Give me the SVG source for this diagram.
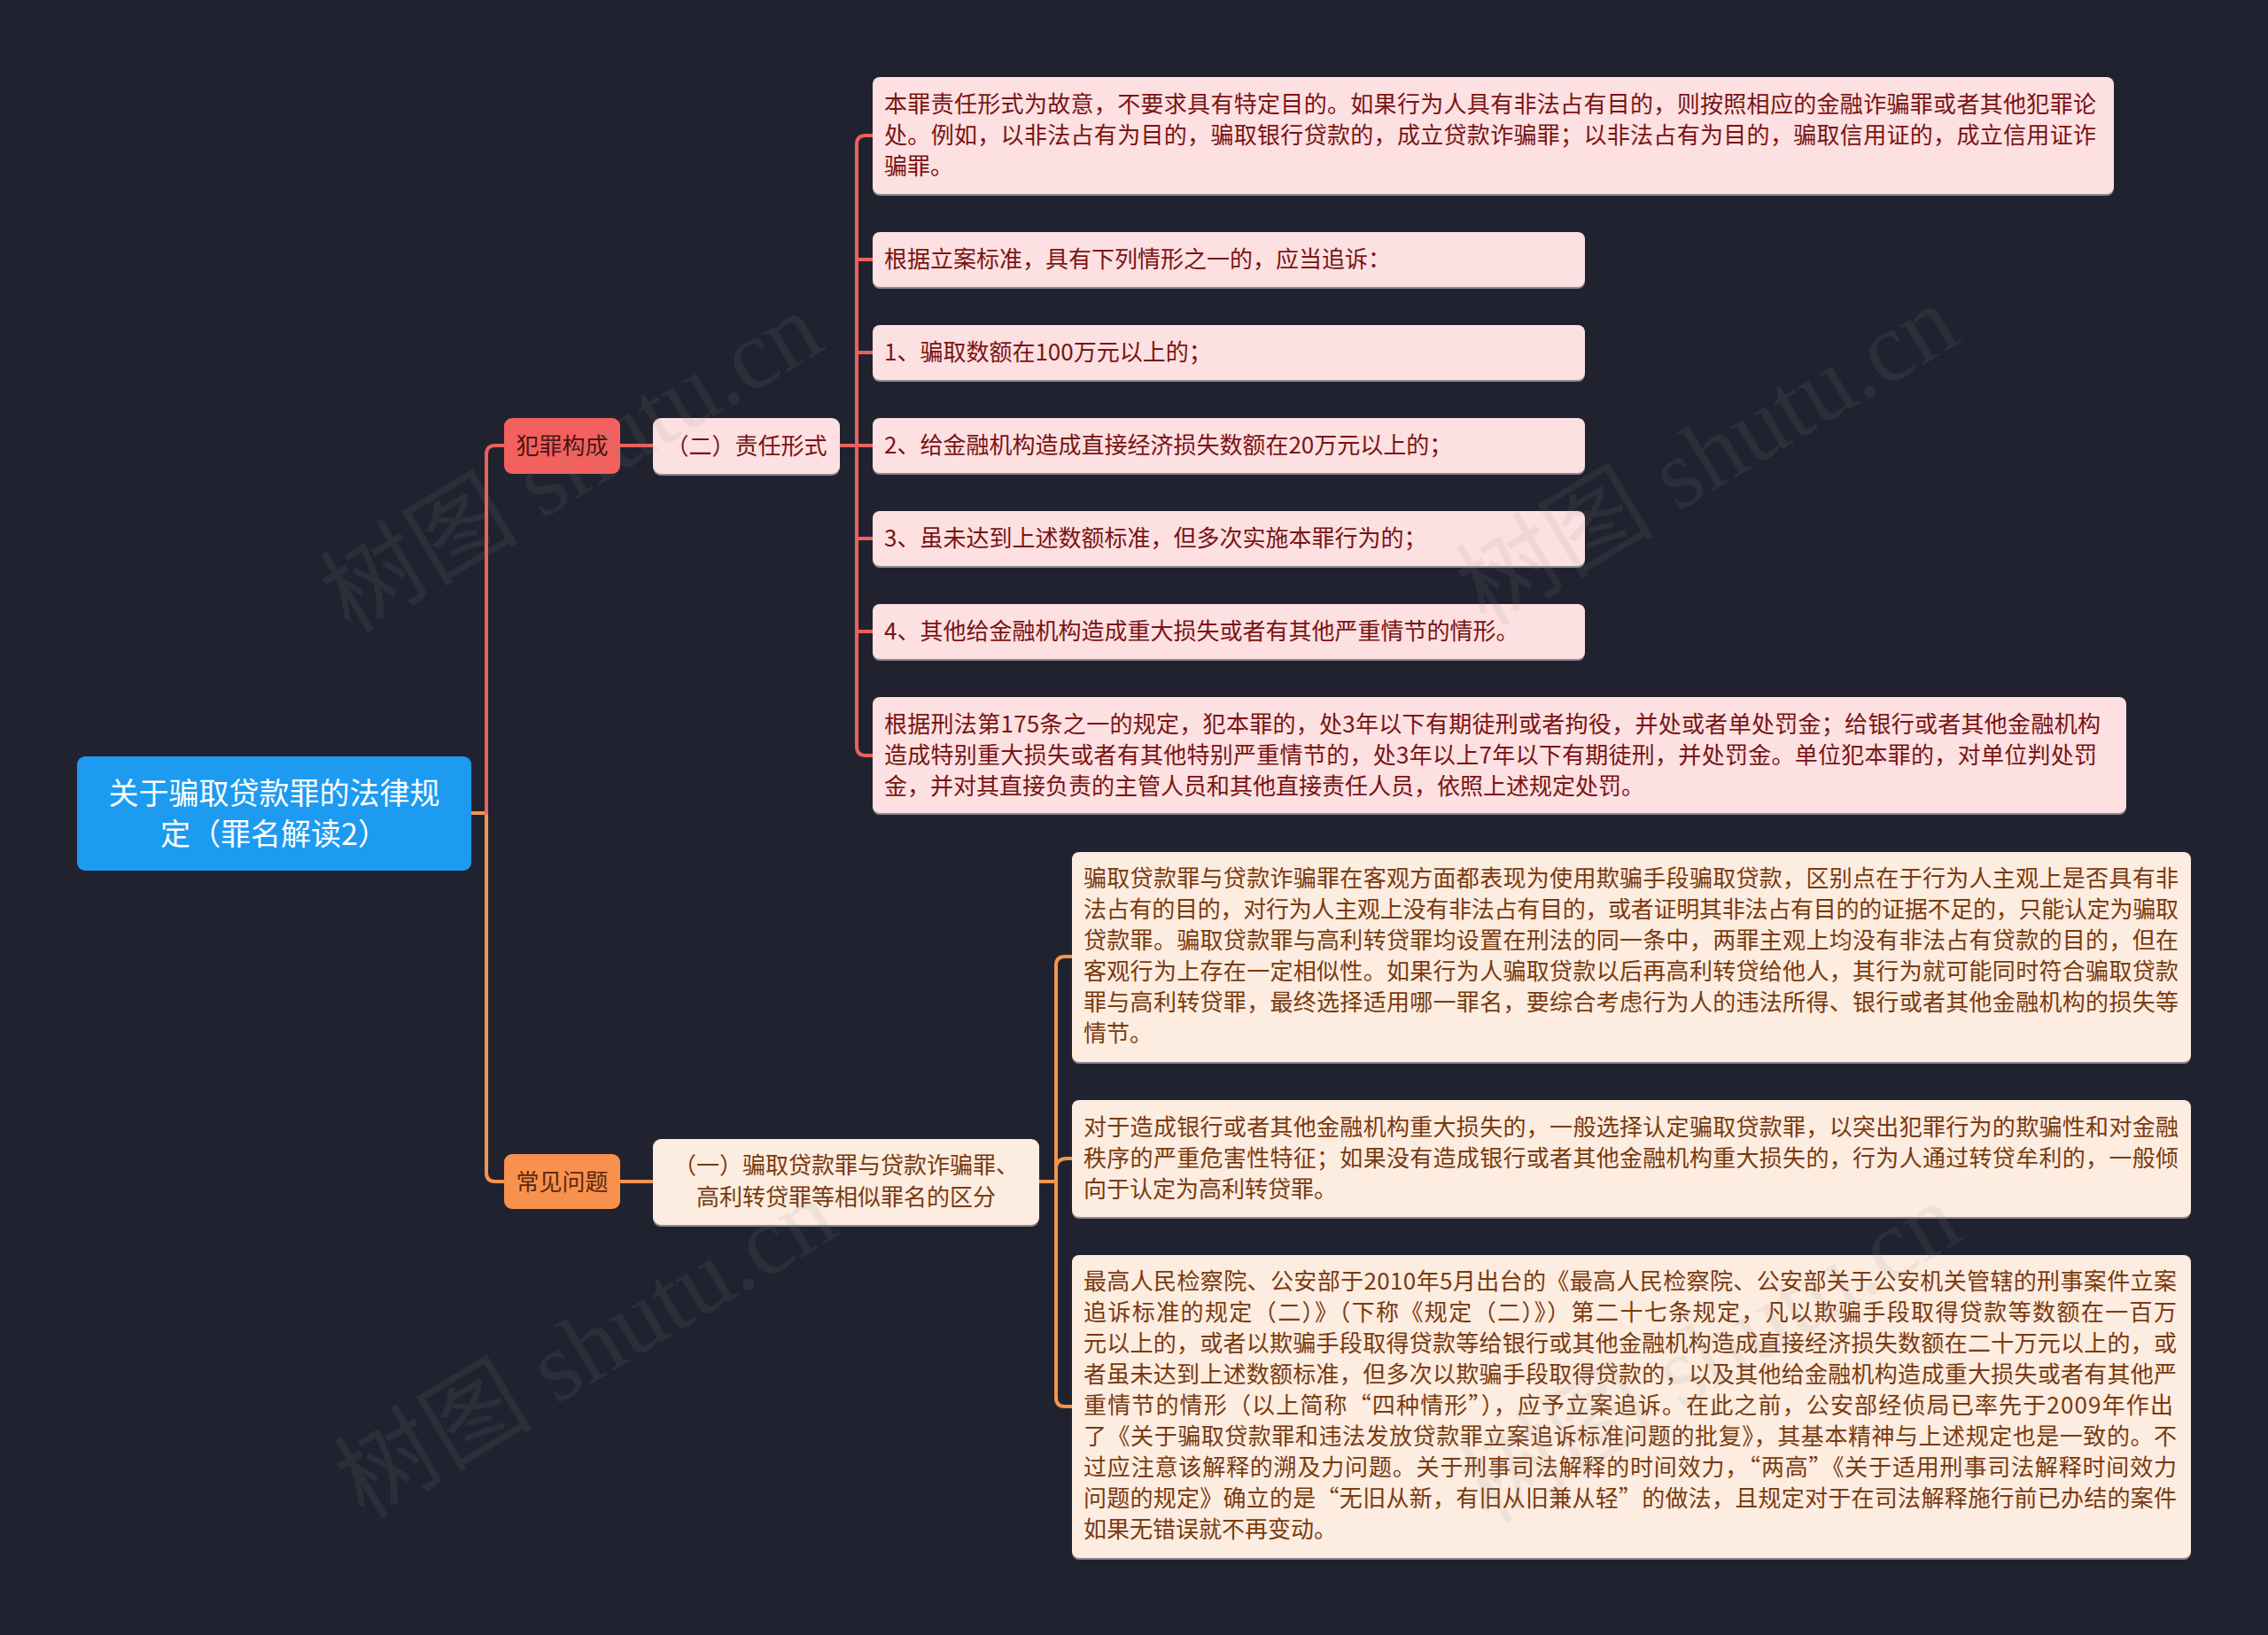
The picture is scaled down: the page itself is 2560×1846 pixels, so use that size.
<svg xmlns="http://www.w3.org/2000/svg" width="2560" height="1846" viewBox="0 0 2560 1846">
<defs>
<style>
.t{font-family:"Noto Sans CJK SC","Noto Sans",sans-serif;}
.red{fill:none;stroke:#ec615e;stroke-width:4;stroke-linecap:round;stroke-linejoin:round;}
.org{fill:none;stroke:#f5944f;stroke-width:4;stroke-linecap:round;stroke-linejoin:round;}
.pk{fill:#fde0e1;}
.pc{fill:#fdece0;}
.sh{fill:#8a8a90;}
.tr{font-size:26px;fill:#7a1313;}
.to{font-size:26px;fill:#7a3a0e;}
.wm{font-family:"Liberation Serif","Noto Sans CJK SC",serif;font-size:112px;fill:#8c8c90;opacity:0.11;}
</style>
</defs>
<rect width="2560" height="1846" fill="#20232f"/>
<g id="connectors">
<path class="org" d="M532,918 H549 V1324 Q549,1334 559,1334 H569"/>
<path class="red" d="M549,918 V513 Q549,503 559,503 H569"/>
<path class="red" d="M700,503 H737"/>
<path class="org" d="M700,1334 H737"/>
<path class="red" d="M948,503 H967"/>
<path class="red" d="M985,153 H977 Q967,153 967,163 V843 Q967,853 977,853 H985"/>
<path class="red" d="M967,293 H985 M967,398 H985 M967,503 H985 M967,608 H985 M967,713 H985"/>
<path class="org" d="M1173,1334 H1192"/>
<path class="org" d="M1209,1080 H1202 Q1192,1080 1192,1090 V1578 Q1192,1588 1202,1588 H1209"/>
<path class="org" d="M1192,1320 Q1192,1308 1204,1308 H1209"/>
</g>
<g id="root">
<rect x="87" y="854" width="445" height="129" rx="9" fill="#1d9bf0"/>
<text class="t" x="309.5" y="908" font-size="34" fill="#ffffff" text-anchor="middle">关于骗取贷款罪的法律规</text>
<text class="t" x="309.5" y="954" font-size="34" fill="#ffffff" text-anchor="middle">定（罪名解读2）</text>
</g>
<g id="n-fzgc">
<rect x="569" y="472" width="131" height="63" rx="9" fill="#f3605d"/>
<text class="t" x="634.5" y="513" font-size="26" fill="#4e1212" text-anchor="middle">犯罪构成</text>
</g>
<g id="n-cjwt">
<rect x="569" y="1303" width="131" height="62" rx="9" fill="#f8914e"/>
<text class="t" x="634.5" y="1344" font-size="26" fill="#5a2a0c" text-anchor="middle">常见问题</text>
</g>
<g id="n-zrxs">
<rect x="737" y="474" width="211" height="63" rx="9" class="sh"/>
<rect x="737" y="472" width="211" height="63" rx="9" class="pk"/>
<text class="t tr" x="842.5" y="513" text-anchor="middle">（二）责任形式</text>
</g>
<g id="n-qf">
<rect x="737" y="1288" width="436" height="97" rx="9" class="sh"/>
<rect x="737" y="1286" width="436" height="97" rx="9" class="pc"/>
<text class="t to" x="955" y="1325" text-anchor="middle">（一）骗取贷款罪与贷款诈骗罪、</text>
<text class="t to" x="955" y="1361" text-anchor="middle">高利转贷罪等相似罪名的区分</text>
</g>
<g id="c1">
<rect x="985" y="89" width="1401" height="132" rx="8" class="sh"/>
<rect x="985" y="87" width="1401" height="132" rx="8" class="pk"/>
<text class="t tr" x="998" y="127" textLength="1368" lengthAdjust="spacing">本罪责任形式为故意，不要求具有特定目的。如果行为人具有非法占有目的，则按照相应的金融诈骗罪或者其他犯罪论</text>
<text class="t tr" x="998" y="162" textLength="1368" lengthAdjust="spacing">处。例如，以非法占有为目的，骗取银行贷款的，成立贷款诈骗罪；以非法占有为目的，骗取信用证的，成立信用证诈</text>
<text class="t tr" x="998" y="197">骗罪。</text>
</g>
<g id="c2">
<rect x="985" y="264" width="804" height="62" rx="8" class="sh"/>
<rect x="985" y="262" width="804" height="62" rx="8" class="pk"/>
<text class="t tr" x="998" y="302">根据立案标准，具有下列情形之一的，应当追诉：</text>
</g>
<g id="c3">
<rect x="985" y="369" width="804" height="62" rx="8" class="sh"/>
<rect x="985" y="367" width="804" height="62" rx="8" class="pk"/>
<text class="t tr" x="998" y="407">1、骗取数额在100万元以上的；</text>
</g>
<g id="c4">
<rect x="985" y="474" width="804" height="62" rx="8" class="sh"/>
<rect x="985" y="472" width="804" height="62" rx="8" class="pk"/>
<text class="t tr" x="998" y="512">2、给金融机构造成直接经济损失数额在20万元以上的；</text>
</g>
<g id="c5">
<rect x="985" y="579" width="804" height="62" rx="8" class="sh"/>
<rect x="985" y="577" width="804" height="62" rx="8" class="pk"/>
<text class="t tr" x="998" y="617">3、虽未达到上述数额标准，但多次实施本罪行为的；</text>
</g>
<g id="c6">
<rect x="985" y="684" width="804" height="62" rx="8" class="sh"/>
<rect x="985" y="682" width="804" height="62" rx="8" class="pk"/>
<text class="t tr" x="998" y="722">4、其他给金融机构造成重大损失或者有其他严重情节的情形。</text>
</g>
<g id="c7">
<rect x="985" y="789" width="1415" height="131" rx="8" class="sh"/>
<rect x="985" y="787" width="1415" height="131" rx="8" class="pk"/>
<text class="t tr" x="998" y="827" textLength="1373" lengthAdjust="spacing">根据刑法第175条之一的规定，犯本罪的，处3年以下有期徒刑或者拘役，并处或者单处罚金；给银行或者其他金融机构</text>
<text class="t tr" x="998" y="862" textLength="1369" lengthAdjust="spacing">造成特别重大损失或者有其他特别严重情节的，处3年以上7年以下有期徒刑，并处罚金。单位犯本罪的，对单位判处罚</text>
<text class="t tr" x="998" y="897">金，并对其直接负责的主管人员和其他直接责任人员，依照上述规定处罚。</text>
</g>
<g id="cA">
<rect x="1210" y="964" width="1263" height="237" rx="8" class="sh"/>
<rect x="1210" y="962" width="1263" height="237" rx="8" class="pc"/>
<text class="t to" x="1223" y="1001" textLength="1236" lengthAdjust="spacing">骗取贷款罪与贷款诈骗罪在客观方面都表现为使用欺骗手段骗取贷款，区别点在于行为人主观上是否具有非</text>
<text class="t to" x="1223" y="1036" textLength="1236" lengthAdjust="spacing">法占有的目的，对行为人主观上没有非法占有目的，或者证明其非法占有目的的证据不足的，只能认定为骗取</text>
<text class="t to" x="1223" y="1071" textLength="1236" lengthAdjust="spacing">贷款罪。骗取贷款罪与高利转贷罪均设置在刑法的同一条中，两罪主观上均没有非法占有贷款的目的，但在</text>
<text class="t to" x="1223" y="1106" textLength="1236" lengthAdjust="spacing">客观行为上存在一定相似性。如果行为人骗取贷款以后再高利转贷给他人，其行为就可能同时符合骗取贷款</text>
<text class="t to" x="1223" y="1141" textLength="1236" lengthAdjust="spacing">罪与高利转贷罪，最终选择适用哪一罪名，要综合考虑行为人的违法所得、银行或者其他金融机构的损失等</text>
<text class="t to" x="1223" y="1176">情节。</text>
</g>
<g id="cB">
<rect x="1210" y="1244" width="1263" height="132" rx="8" class="sh"/>
<rect x="1210" y="1242" width="1263" height="132" rx="8" class="pc"/>
<text class="t to" x="1223" y="1282" textLength="1236" lengthAdjust="spacing">对于造成银行或者其他金融机构重大损失的，一般选择认定骗取贷款罪，以突出犯罪行为的欺骗性和对金融</text>
<text class="t to" x="1223" y="1317" textLength="1236" lengthAdjust="spacing">秩序的严重危害性特征；如果没有造成银行或者其他金融机构重大损失的，行为人通过转贷牟利的，一般倾</text>
<text class="t to" x="1223" y="1352">向于认定为高利转贷罪。</text>
</g>
<g id="cC">
<rect x="1210" y="1419" width="1263" height="342" rx="8" class="sh"/>
<rect x="1210" y="1417" width="1263" height="342" rx="8" class="pc"/>
<text class="t to" x="1223" y="1456" textLength="1234" lengthAdjust="spacing">最高人民检察院、公安部于2010年5月出台的《最高人民检察院、公安部关于公安机关管辖的刑事案件立案</text>
<text class="t to" x="1223" y="1491" textLength="1234" lengthAdjust="spacing">追诉标准的规定（二）》（下称《规定（二）》）第二十七条规定，凡以欺骗手段取得贷款等数额在一百万</text>
<text class="t to" x="1223" y="1526" textLength="1234" lengthAdjust="spacing">元以上的，或者以欺骗手段取得贷款等给银行或其他金融机构造成直接经济损失数额在二十万元以上的，或</text>
<text class="t to" x="1223" y="1561" textLength="1234" lengthAdjust="spacing">者虽未达到上述数额标准，但多次以欺骗手段取得贷款的，以及其他给金融机构造成重大损失或者有其他严</text>
<text class="t to" x="1223" y="1596" textLength="1230" lengthAdjust="spacing">重情节的情形（以上简称“四种情形”），应予立案追诉。在此之前，公安部经侦局已率先于2009年作出</text>
<text class="t to" x="1223" y="1631" textLength="1234" lengthAdjust="spacing">了《关于骗取贷款罪和违法发放贷款罪立案追诉标准问题的批复》，其基本精神与上述规定也是一致的。不</text>
<text class="t to" x="1223" y="1666" textLength="1234" lengthAdjust="spacing">过应注意该解释的溯及力问题。关于刑事司法解释的时间效力，“两高”《关于适用刑事司法解释时间效力</text>
<text class="t to" x="1223" y="1701" textLength="1234" lengthAdjust="spacing">问题的规定》确立的是“无旧从新，有旧从旧兼从轻”的做法，且规定对于在司法解释施行前已办结的案件</text>
<text class="t to" x="1223" y="1736">如果无错误就不再变动。</text>
</g>
<g id="watermarks">
<text class="wm" x="645" y="522" text-anchor="middle" dominant-baseline="central" transform="rotate(-31 645 522)">树图 shutu.cn</text>
<text class="wm" x="1927" y="514" text-anchor="middle" dominant-baseline="central" transform="rotate(-31 1927 514)">树图 shutu.cn</text>
<text class="wm" x="661" y="1522" text-anchor="middle" dominant-baseline="central" transform="rotate(-31 661 1522)">树图 shutu.cn</text>
<text class="wm" x="1930" y="1527" text-anchor="middle" dominant-baseline="central" transform="rotate(-31 1930 1527)">树图 shutu.cn</text>
</g>
</svg>
